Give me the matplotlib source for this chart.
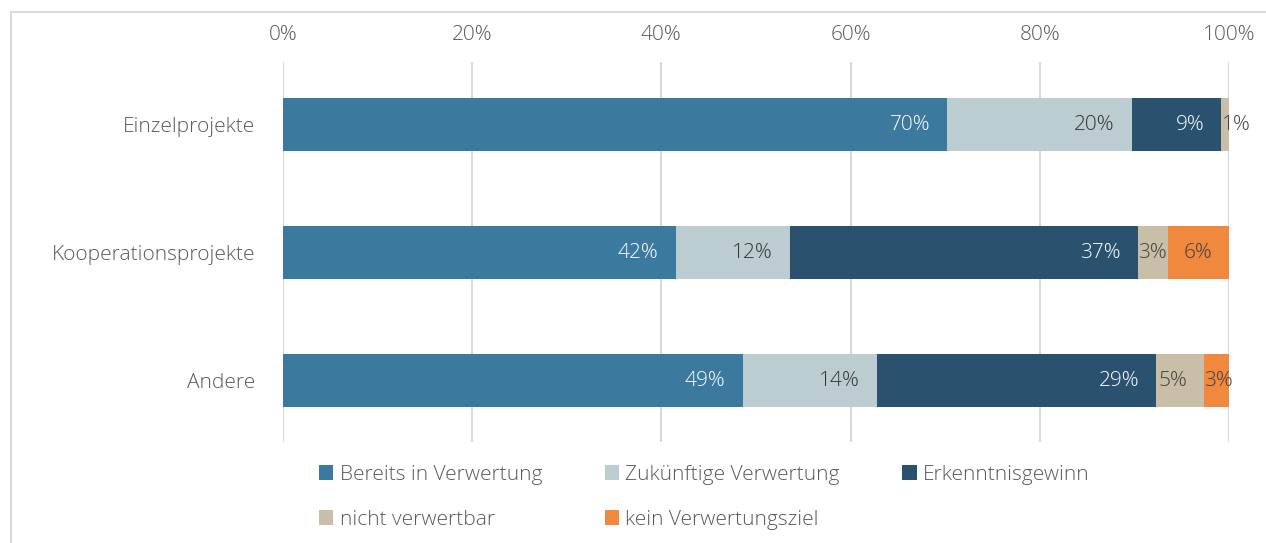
import matplotlib.pyplot as plt
from matplotlib.patches import Rectangle

plt.rcParams['font.family'] = ['Open Sans', 'DejaVu Sans']
plt.rcParams['font.weight'] = 'light'

# Daten
kategorien = ['Einzelprojekte', 'Kooperationsprojekte', 'Andere']
serien = ['Bereits in Verwertung', 'Zukünftige Verwertung', 'Erkenntnisgewinn',
          'nicht verwertbar', 'kein Verwertungsziel']
bereits = [70.2, 41.5, 48.6]
zukuenftig = [19.5, 12.1, 14.2]
erkenntnis = [9.5, 36.8, 29.5]
nicht_verwertbar = [0.8, 3.2, 5.1]
kein_ziel = [0.0, 6.4, 2.6]
beschriftung = [
    ['70%', '42%', '49%'],
    ['20%', '12%', '14%'],
    ['9%', '37%', '29%'],
    ['1%', '3%', '5%'],
    ['', '6%', '3%'],
]

werte = [bereits, zukuenftig, erkenntnis, nicht_verwertbar, kein_ziel]
farben = ['#3B7A9E', '#BCCDD2', '#2A526E', '#C9BFA8', '#F0883E']
textfarben = ['white', '#333333', 'white', '#404040', '#404040']

fig = plt.figure(figsize=(12.66, 5.43), dpi=100)
ax = fig.add_axes([283 / 1266, 1 - 442 / 543, (1229 - 283) / 1266, (442 - 62) / 543])

# Rahmen um die Grafik
fig.patches.append(Rectangle((10.5 / 1266, -0.1), 1.2, 1 - 12.5 / 543 + 0.1,
                             transform=fig.transFigure, fill=False,
                             edgecolor='#D9D9D9', linewidth=1.5, zorder=0))

y = list(range(len(kategorien)))
links = [0.0] * len(kategorien)
handles = []
for i, serie in enumerate(serien):
    b = ax.barh(y, werte[i], left=links, height=0.41, color=farben[i],
                label=serie, zorder=3)
    handles.append(b)
    for j in y:
        w = werte[i][j]
        txt = beschriftung[i][j]
        if txt:
            start = links[j]
            ende = links[j] + w
            if w < 5.0:
                ax.text(start, j, txt, ha='left', va='center', fontsize=15,
                        color=textfarben[i], zorder=4)
            else:
                ax.text(ende - 1.8, j, txt, ha='right', va='center', fontsize=15,
                        color=textfarben[i], zorder=4)
    links = [links[k] + werte[i][k] for k in y]

ax.set_xlim(0, 100)
ax.set_ylim(2.48, -0.49)
ax.set_yticks(y)
ax.set_yticklabels(kategorien)
ax.set_xticks(range(0, 101, 20))
ax.set_xticklabels([f'{v}%' for v in range(0, 101, 20)])
ax.xaxis.tick_top()
ax.tick_params(axis='both', length=0, labelsize=15, labelcolor='#595959')
ax.tick_params(axis='x', pad=12)
ax.tick_params(axis='y', pad=20)
ax.grid(axis='x', color='#D9D9D9', linewidth=1.5, zorder=0)
for s in ax.spines.values():
    s.set_visible(False)

# Legende zeilenweise: Reihenfolge fuer spaltenweises Auffuellen
reihenfolge = [0, 3, 1, 4, 2]
fig.legend([handles[k] for k in reihenfolge], [serien[k] for k in reihenfolge],
           loc='upper left', bbox_to_anchor=(300 / 1266, 1 - 446 / 543), ncol=3,
           frameon=False, fontsize=15, labelcolor='#595959',
           handlelength=0.7, handleheight=0.7, handletextpad=0.3,
           columnspacing=3.0, labelspacing=1.2)

fig.savefig('out.png', dpi=100)
